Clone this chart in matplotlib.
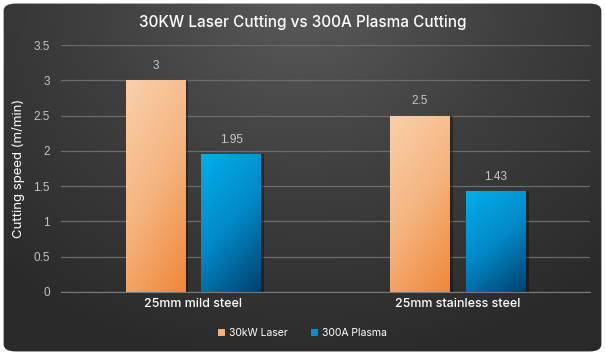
import numpy as np
import matplotlib.pyplot as plt
from matplotlib.patches import FancyBboxPatch, Rectangle
from matplotlib.colors import LinearSegmentedColormap

# data
categories = ['25mm mild steel', '25mm stainless steel']
series = ['30kW Laser', '300A Plasma']
laser = [3, 2.5]
plasma = [1.95, 1.43]
value_labels = [['3', '2.5'], ['1.95', '1.43']]

W, H = 6.05, 3.55
fig = plt.figure(figsize=(W, H), dpi=100, facecolor='white')

# background card with radial-ish gradient
bg = fig.add_axes([0, 0, 1, 1], zorder=-10)
bg.set_xlim(0, 1)
bg.set_ylim(0, 1)
bg.axis('off')
yy, xx = np.mgrid[0:1:200j, 0:1:300j]
d = np.sqrt(((xx - 0.5) * 1.3) ** 2 + ((yy - 1.0) * 0.9) ** 2)
bgcm = LinearSegmentedColormap.from_list('bg', ['#5a5a5a', '#3e3e3e', '#2a2a2a'])
card = FancyBboxPatch((0.006, 0.01), 0.988, 0.98, boxstyle='round,pad=0,rounding_size=0.02',
                      transform=bg.transAxes, facecolor='none', edgecolor='none')
bg.add_patch(card)
im = bg.imshow(d, cmap=bgcm, extent=[0, 1, 1, 0], aspect='auto', vmin=0, vmax=0.95)
im.set_clip_path(card)
bg.set_ylim(0, 1)

# main axes
ax = fig.add_axes([61 / 605, 1 - 292 / 355, 529 / 605, (292 - 45) / 355])
ax.set_facecolor('none')
ax.set_xlim(-0.5, 1.5)
ax.set_ylim(0, 3.5)
ax.set_yticks(np.arange(0, 3.51, 0.5))
ax.set_yticklabels(['0', '0.5', '1', '1.5', '2', '2.5', '3', '3.5'])
ax.yaxis.grid(True, color='#6c6c6c', linewidth=0.9)
ax.set_axisbelow(True)
for s in ['top', 'right', 'left']:
    ax.spines[s].set_visible(False)
ax.spines['bottom'].set_color('#7a7a7a')
ax.tick_params(axis='y', length=0, pad=8, colors='#c4c4c4', labelsize=8.5)
ax.tick_params(axis='x', length=0, pad=4, colors='white', labelsize=9)
for t in ax.get_yticklabels():
    t.set_fontfamily('Liberation Sans')
x = np.arange(len(categories))
ax.set_xticks(x)
ax.set_xticklabels(categories, fontfamily='Inter', fontweight='medium')
ax.set_ylabel('Cutting speed (m/min)', color='white', fontsize=9.5, fontfamily='Inter', labelpad=6)

bw = 0.226
off = 0.143
laser_cm = LinearSegmentedColormap.from_list('l', ['#f9d0ab', '#f5b47f', '#ef873a'])
plasma_cm = LinearSegmentedColormap.from_list('p', ['#02aeea', '#0289c9', '#00426f'])
g = np.linspace(0, 1, 100)
grad = (g[:, None] * 0.75 + g[None, :] * 0.35) / 1.1
grad = grad[::-1, :]

for vals, pos, cm, name in [(laser, x - off, laser_cm, series[0]), (plasma, x + off, plasma_cm, series[1])]:
    # shadow
    ax.bar(pos + 0.012, vals, bw, color='black', alpha=0.35, zorder=2, linewidth=0)
    bars = ax.bar(pos, vals, bw, color='none', zorder=3, linewidth=0, label=name)
    for b in bars:
        x0, y0, w_, h_ = b.get_x(), b.get_y(), b.get_width(), b.get_height()
        img = ax.imshow(grad, cmap=cm, extent=[x0, x0 + w_, y0 + h_, y0], aspect='auto',
                        zorder=3, origin='upper', vmin=0, vmax=1)
        img.set_clip_path(b)
ax.set_xlim(-0.5, 1.5)
ax.set_ylim(0, 3.5)

for vals, pos, labs in [(laser, x - off, value_labels[0]), (plasma, x + off, value_labels[1])]:
    for p, v, l in zip(pos, vals, labs):
        ax.text(p, v + 0.12, l, ha='center', va='bottom', color='#c8c8c8', fontsize=8.5,
                fontfamily='Liberation Sans')

fig.text(0.5, 1 - 22 / 355, '30KW Laser Cutting vs 300A Plasma Cutting', ha='center', va='center',
         color='white', fontsize=11, fontfamily='Inter', fontweight='medium')

# legend
handles = [Rectangle((0, 0), 1, 1, facecolor='#f5b07a', edgecolor='none'),
           Rectangle((0, 0), 1, 1, facecolor='#0590cf', edgecolor='none')]
leg = fig.legend(handles, series, loc='center', bbox_to_anchor=(0.5, 1 - 333 / 355), ncol=2,
                 frameon=False, handlelength=0.7, handleheight=0.7,
                 handletextpad=0.4, columnspacing=2.2, labelcolor='white',
                 prop={'family': 'Inter', 'size': 7.5})

fig.savefig('out.png', dpi=100, facecolor='white')
